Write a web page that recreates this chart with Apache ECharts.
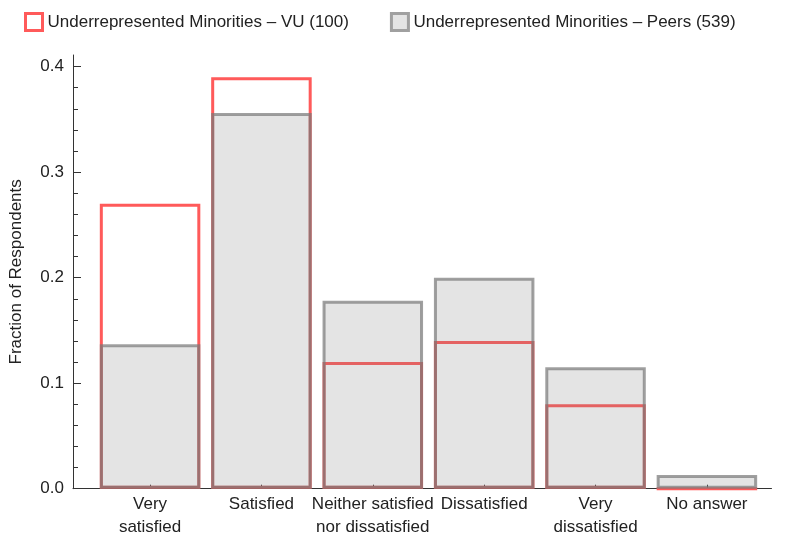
<!DOCTYPE html>
<html>
<head>
<meta charset="utf-8">
<script src="https://cdn.jsdelivr.net/npm/echarts@6/dist/echarts.min.js"></script>
<style>html,body{margin:0;padding:0;background:#fff;}#c{width:785px;height:547px;}</style>
</head>
<body>
<div id="c"></div>
<script>
const categories = ['Very\nsatisfied', 'Satisfied', 'Neither satisfied\nnor dissatisfied', 'Dissatisfied', 'Very\ndissatisfied', 'No answer'];
const vuValues = [0.27, 0.39, 0.12, 0.14, 0.08, 0];
const peersValues = [0.137, 0.356, 0.178, 0.2, 0.115, 0.013];
const yMajorTicks = [0, 0.1, 0.2, 0.3, 0.4];
const yMinorTicks = [0.02, 0.04, 0.06, 0.08, 0.12, 0.14, 0.16, 0.18, 0.22, 0.24, 0.26, 0.28, 0.32, 0.34, 0.36, 0.38];
const vuName = 'Underrepresented Minorities \u2013 VU (100)';
const peersName = 'Underrepresented Minorities \u2013 Peers (539)';

const FONT = '"Liberation Sans", Arial, Helvetica, sans-serif';
const FS = 17;
const catIdx = categories.map((c, i) => i);

const chart = echarts.init(document.getElementById('c'), null, {renderer: 'canvas'});
chart.setOption({
  animation: false,
  backgroundColor: '#fff',
  textStyle: {fontFamily: FONT},
  legend: {
    top: 12, left: 24, padding: 0,
    itemWidth: 17, itemHeight: 17, itemGap: 41,
    icon: 'rect',
    textStyle: {fontFamily: FONT, fontSize: FS, color: '#222'},
    data: [
      {name: vuName, itemStyle: {color: '#fff', borderColor: '#ff5a5a', borderWidth: 3}},
      {name: peersName, itemStyle: {color: '#e4e4e4', borderColor: '#a0a0a0', borderWidth: 3}}
    ]
  },
  grid: {left: 71, right: 13.5, top: 55, bottom: 58.3, containLabel: false},
  xAxis: {
    type: 'value', min: -0.692, max: 5.58,
    splitLine: {show: false},
    axisLine: {show: true, onZero: false, lineStyle: {color: '#333', width: 1}},
    axisTick: {show: true, inside: true, length: 4, customValues: catIdx, lineStyle: {color: '#333'}},
    axisLabel: {
      customValues: catIdx, margin: 4,
      fontFamily: FONT, fontSize: FS, color: '#222', lineHeight: 23,
      formatter: v => categories[Math.round(v)]
    }
  },
  yAxis: [{
    type: 'value', min: 0, max: 0.411,
    name: 'Fraction of Respondents', nameLocation: 'middle', nameGap: 48, nameRotate: 90,
    nameTextStyle: {fontFamily: FONT, fontSize: FS, color: '#222'},
    splitLine: {show: false},
    axisLine: {show: true, onZero: false, lineStyle: {color: '#333', width: 1}},
    axisTick: {show: true, inside: true, length: 8, customValues: yMajorTicks, lineStyle: {color: '#333'}},
    axisLabel: {customValues: yMajorTicks, margin: 9, fontFamily: FONT, fontSize: FS, color: '#222',
      formatter: v => v.toFixed(1)}
  }, {
    type: 'value', min: 0, max: 0.411, position: 'left',
    splitLine: {show: false},
    axisLine: {show: false, onZero: false},
    axisTick: {show: true, inside: true, length: 5, customValues: yMinorTicks, lineStyle: {color: '#333'}},
    axisLabel: {show: false}
  }],
  series: [{
    name: vuName, type: 'bar', yAxisIndex: 0,
    barWidth: 100.5, barGap: '-100%',
    itemStyle: {color: 'rgba(255,255,255,0)', borderColor: '#ff5a5a', borderWidth: 3},
    data: vuValues.map((v, i) => [i, v])
  }, {
    name: peersName, type: 'bar', yAxisIndex: 0,
    barWidth: 100.5, barGap: '-100%',
    itemStyle: {color: 'rgba(128,128,128,0.21)', borderColor: 'rgba(120,120,120,0.7)', borderWidth: 3},
    data: peersValues.map((v, i) => [i, v])
  }]
});
</script>
</body>
</html>
